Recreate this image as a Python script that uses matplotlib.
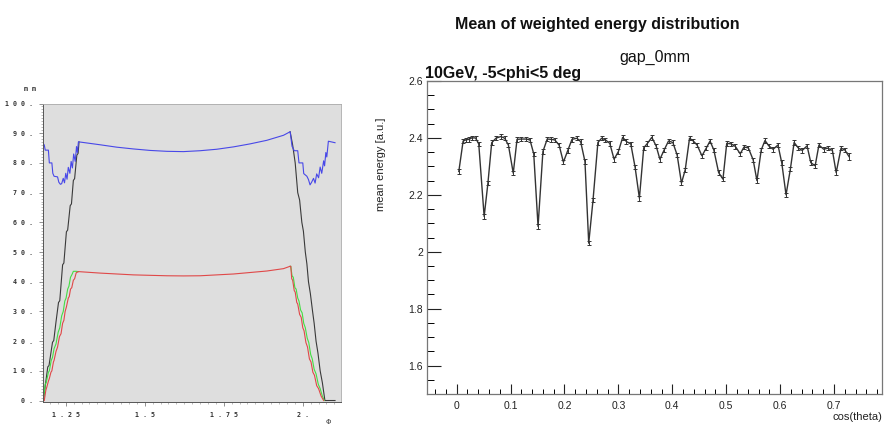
import matplotlib
matplotlib.use("Agg")
import matplotlib.pyplot as plt
from matplotlib.ticker import MultipleLocator, FixedLocator

# ---------------- left panel data (phi vs mm) ----------------
blue_x = [1.179, 1.182, 1.185, 1.195, 1.198, 1.206, 1.209, 1.213, 1.224, 1.228, 1.233, 1.237,
          1.242, 1.246, 1.250, 1.254, 1.258, 1.263, 1.267, 1.271, 1.275, 1.280, 1.284, 1.287,
          1.290, 1.359, 1.411, 1.464, 1.517, 1.570, 1.622, 1.675, 1.728, 1.781, 1.833, 1.886,
          1.939, 1.960, 1.966, 1.973, 1.984, 1.988, 2.000, 2.003, 2.013, 2.018, 2.023, 2.028,
          2.034, 2.039, 2.044, 2.050, 2.055, 2.060, 2.066, 2.069, 2.073, 2.076, 2.081, 2.102]
blue_y = [86.5, 86.0, 84.3, 84.3, 80.0, 80.0, 76.5, 75.5, 75.3, 73.5, 72.8, 73.0,
          74.8, 73.3, 76.5, 74.5, 78.5, 76.5, 80.5, 78.3, 83.0, 80.5, 85.5, 83.5,
          87.1, 86.1, 85.3, 84.7, 84.2, 83.9, 83.8, 84.1, 84.6, 85.4, 86.4, 87.6,
          89.3, 90.5, 85.6, 84.1, 84.1, 80.0, 80.0, 76.4, 75.5, 74.4, 72.6, 73.5,
          74.8, 73.2, 76.3, 75.0, 78.6, 76.5, 80.7, 79.0, 83.5, 82.0, 87.3, 86.8]

black_left_x = [1.175, 1.179, 1.193, 1.197, 1.208, 1.212, 1.219, 1.227, 1.231, 1.240, 1.244,
                1.252, 1.256, 1.264, 1.268, 1.274, 1.278, 1.285, 1.289, 1.292]
black_left_y = [0.0, 0.0, 11.3, 11.8, 19.6, 20.2, 26.4, 33.0, 33.6, 45.7, 46.3,
                56.8, 57.4, 65.6, 66.2, 74.1, 74.7, 82.6, 83.2, 87.1]
black_right_x = [1.960, 1.968, 1.976, 1.984, 1.990, 1.997, 2.002, 2.008, 2.013, 2.018, 2.024,
                 2.031, 2.036, 2.042, 2.048, 2.055, 2.062, 2.070, 2.102]
black_right_y = [90.5, 86.0, 80.0, 70.0, 67.5, 60.0, 57.0, 50.0, 46.0, 40.0, 36.0,
                 30.0, 26.0, 20.0, 16.0, 10.0, 6.0, 0.0, 0.0]

red_x = [1.182, 1.187, 1.190, 1.195, 1.198, 1.203, 1.206, 1.211, 1.213, 1.219, 1.224, 1.230,
         1.235, 1.240, 1.244, 1.248, 1.252, 1.258, 1.261, 1.265, 1.269, 1.274, 1.278, 1.283,
         1.290, 1.359, 1.464, 1.570, 1.622, 1.675, 1.781, 1.886, 1.939, 1.960,
         1.962, 1.965, 1.968, 1.973, 1.976, 1.981, 1.984, 1.990, 1.995, 2.000, 2.004, 2.010,
         2.015, 2.021, 2.026, 2.032, 2.037, 2.044, 2.050, 2.058, 2.066]
red_y = [0.0, 3.5, 4.5, 6.5, 7.4, 9.5, 10.0, 13.0, 13.5, 16.5, 18.0, 21.5,
         22.5, 26.0, 27.0, 30.0, 31.5, 34.5, 35.0, 37.5, 38.0, 40.5, 41.0, 43.0,
         43.4, 42.9, 42.3, 42.0, 41.95, 42.0, 42.6, 43.6, 44.4, 45.2,
         45.2, 41.0, 40.5, 37.0, 36.5, 33.0, 32.5, 29.0, 28.0, 24.5, 23.5, 19.5,
         18.0, 14.0, 13.0, 9.5, 8.5, 5.0, 4.0, 1.5, 0.0]

green_left_x = [1.179, 1.185, 1.188, 1.195, 1.198, 1.204, 1.208, 1.213, 1.219, 1.226, 1.231,
                1.237, 1.242, 1.247, 1.251, 1.256, 1.260, 1.265, 1.270, 1.274, 1.283, 1.290]
green_left_y = [0.0, 5.5, 6.0, 9.5, 10.0, 13.5, 14.5, 17.5, 19.0, 23.0, 24.5,
                28.5, 30.0, 33.5, 34.5, 37.5, 38.5, 41.5, 42.5, 43.5, 43.5, 43.4]
green_right_x = [1.960, 1.962, 1.966, 1.970, 1.975, 1.979, 1.984, 1.988, 1.993, 1.998, 2.003,
                 2.008, 2.014, 2.019, 2.025, 2.030, 2.036, 2.042, 2.049, 2.055, 2.062, 2.068]
green_right_y = [45.2, 45.2, 42.0, 41.5, 38.0, 37.5, 34.5, 33.5, 30.5, 29.5, 26.0,
                 24.5, 21.0, 19.5, 15.5, 14.0, 10.5, 9.0, 5.5, 4.0, 1.5, 0.0]

left_xticks = [1.25, 1.5, 1.75, 2.0]
left_xticklabels = ["1 . 2 5", "1 . 5", "1 . 7 5", "2 ."]
left_yticks = [0, 10, 20, 30, 40, 50, 60, 70, 80, 90, 100]
left_yticklabels = ["0 .", "1 0 .", "2 0 .", "3 0 .", "4 0 .", "5 0 .", "6 0 .",
                    "7 0 .", "8 0 .", "9 0 .", "1 0 0 ."]

# ---------------- right panel data ----------------
cos_theta = [0.004, 0.012, 0.017, 0.023, 0.028, 0.035, 0.041, 0.051, 0.058, 0.065,
             0.073, 0.082, 0.089, 0.096, 0.105, 0.112, 0.120, 0.129, 0.136, 0.143,
             0.151, 0.160, 0.168, 0.175, 0.182, 0.190, 0.198, 0.206, 0.214, 0.223,
             0.230, 0.238, 0.245, 0.253, 0.262, 0.269, 0.276, 0.284, 0.292, 0.300,
             0.308, 0.315, 0.323, 0.331, 0.339, 0.347, 0.354, 0.362, 0.370, 0.377,
             0.385, 0.393, 0.401, 0.409, 0.417, 0.424, 0.432, 0.439, 0.446, 0.455,
             0.463, 0.470, 0.477, 0.486, 0.494, 0.501, 0.509, 0.517, 0.526, 0.533,
             0.541, 0.550, 0.557, 0.565, 0.572, 0.579, 0.587, 0.596, 0.603, 0.611,
             0.619, 0.626, 0.634, 0.641, 0.650, 0.657, 0.665, 0.672, 0.681, 0.688,
             0.697, 0.704, 0.713, 0.720, 0.728]
mean_energy = [2.282, 2.389, 2.393, 2.395, 2.400, 2.400, 2.379, 2.124, 2.241, 2.383,
               2.399, 2.405, 2.399, 2.375, 2.276, 2.395, 2.396, 2.396, 2.393, 2.344,
               2.089, 2.352, 2.396, 2.395, 2.393, 2.375, 2.315, 2.355, 2.395, 2.399,
               2.387, 2.317, 2.030, 2.182, 2.384, 2.399, 2.393, 2.381, 2.325, 2.352,
               2.402, 2.387, 2.379, 2.297, 2.188, 2.365, 2.381, 2.402, 2.372, 2.325,
               2.358, 2.389, 2.384, 2.340, 2.241, 2.288, 2.399, 2.389, 2.375, 2.337,
               2.364, 2.389, 2.358, 2.278, 2.255, 2.381, 2.379, 2.370, 2.344, 2.368,
               2.365, 2.323, 2.250, 2.358, 2.391, 2.372, 2.360, 2.375, 2.313, 2.200,
               2.290, 2.384, 2.364, 2.356, 2.372, 2.313, 2.302, 2.375, 2.360, 2.364,
               2.356, 2.278, 2.364, 2.358, 2.334]
mean_err = [0.008] * 94 + [0.012]

# ---------------- figure ----------------
fig = plt.figure(figsize=(8.93, 4.28), dpi=100)

# Left panel
axl = fig.add_axes([42.7 / 893, (428 - 402.3) / 428, 298 / 893, 298.8 / 428])
axl.set_facecolor("#dedede")
axl.plot(black_left_x, black_left_y, color="#3a3a3a", lw=0.8)
axl.plot(black_right_x, black_right_y, color="#3a3a3a", lw=0.8)
axl.plot(green_left_x, green_left_y, color="#44dd44", lw=0.8)
axl.plot(green_right_x, green_right_y, color="#44dd44", lw=0.8)
axl.plot(red_x, red_y, color="#e04848", lw=0.8)
axl.plot(blue_x, blue_y, color="#4848e8", lw=0.8)
axl.set_xlim(1.177, 2.120)
axl.set_ylim(-0.6, 100)
axl.xaxis.set_major_locator(FixedLocator(left_xticks))
axl.set_xticklabels(left_xticklabels)
axl.xaxis.set_minor_locator(MultipleLocator(0.025))
axl.yaxis.set_major_locator(FixedLocator(left_yticks))
axl.set_yticklabels(left_yticklabels)
axl.yaxis.set_minor_locator(MultipleLocator(1))
for lab in axl.get_xticklabels() + axl.get_yticklabels():
    lab.set_family("DejaVu Sans Mono")
    lab.set_fontsize(4.8)
    lab.set_fontweight("bold")
    lab.set_color("#333333")
axl.tick_params(axis="both", which="major", direction="out", length=3, width=0.5,
                color="#666666", pad=4)
axl.tick_params(axis="both", which="minor", direction="out", length=1.5, width=0.4,
                color="#888888")
for side in ["top", "right"]:
    axl.spines[side].set_color("#aaaaaa")
    axl.spines[side].set_linewidth(0.6)
for side in ["left", "bottom"]:
    axl.spines[side].set_color("#555555")
    axl.spines[side].set_linewidth(0.7)
fig.text(30 / 893, 1 - 89 / 428, "m m", fontsize=4.8, family="DejaVu Sans Mono",
         fontweight="bold", color="#333333", ha="center", va="center")
fig.text(328 / 893, 1 - 422 / 428, "Φ", fontsize=5, family="DejaVu Sans",
         color="#333333", ha="center", va="center")

# Right panel
axr = fig.add_axes([427 / 893, (428 - 394) / 428, 455 / 893, 313 / 428])
axr.errorbar(cos_theta, mean_energy, yerr=mean_err, color="#333333", lw=1.0,
             elinewidth=0.7, capsize=1.6, capthick=0.7, marker="", zorder=3)
axr.set_xlim(-0.055, 0.789)
axr.set_ylim(1.5, 2.6)
axr.xaxis.set_major_locator(MultipleLocator(0.1))
axr.xaxis.set_minor_locator(MultipleLocator(0.02))
axr.yaxis.set_major_locator(FixedLocator([1.6, 1.8, 2.0, 2.2, 2.4, 2.6]))
axr.yaxis.set_minor_locator(MultipleLocator(0.05))
axr.set_yticklabels(["1.6", "1.8", "2", "2.2", "2.4", "2.6"])
axr.set_xticks([0, 0.1, 0.2, 0.3, 0.4, 0.5, 0.6, 0.7])
axr.set_xticklabels(["0", "0.1", "0.2", "0.3", "0.4", "0.5", "0.6", "0.7"])
axr.tick_params(axis="both", which="major", direction="in", labelsize=7.5, width=0.8,
                color="#222222", labelcolor="#222222")
axr.tick_params(axis="y", which="major", length=10, pad=3)
axr.tick_params(axis="y", which="minor", direction="in", length=5, width=0.7)
axr.tick_params(axis="x", which="major", length=7, pad=5)
axr.tick_params(axis="x", which="minor", direction="in", length=3.5, width=0.7)
for lab in axr.get_xticklabels() + axr.get_yticklabels():
    lab.set_family("Liberation Sans")
for side in axr.spines:
    axr.spines[side].set_color("#777777")
    axr.spines[side].set_linewidth(0.9)

fig.text(597 / 893, 1 - 24 / 428, "Mean of weighted energy distribution",
         fontsize=11.5, fontweight="bold", family="Liberation Sans",
         ha="center", va="center", color="#111111")
fig.text(655 / 893, 1 - 57 / 428, "gap_0mm", fontsize=11.5, family="Liberation Sans",
         ha="center", va="center", color="#111111")
fig.text(425 / 893, 1 - 78 / 428, "10GeV, -5<phi<5 deg", fontsize=11.5,
         fontweight="bold", family="Liberation Sans", ha="left", va="baseline",
         color="#111111")
fig.text(381 / 893, 1 - 118 / 428, "mean energy [a.u.]", fontsize=8, rotation=90,
         family="Liberation Sans", ha="center", va="top", color="#222222")
fig.text(882 / 893, 1 - 417 / 428, "cos(theta)", fontsize=8,
         family="Liberation Sans", ha="right", va="center", color="#222222")

fig.savefig("out.png", dpi=100)
